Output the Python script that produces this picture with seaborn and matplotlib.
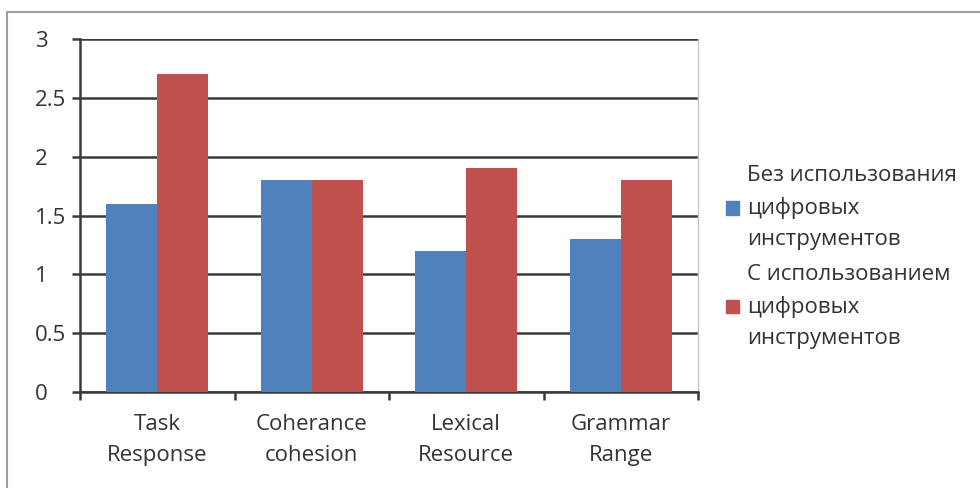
import matplotlib
matplotlib.use("Agg")
import matplotlib.pyplot as plt
from matplotlib.lines import Line2D
from matplotlib.ticker import FixedLocator
import seaborn as sns
import pandas as pd

categories = ["Task\nResponse", "Coherance\ncohesion", "Lexical\nResource", "Grammar\nRange"]
series_names = ["Без использования\nцифровых\nинструментов",
                "С использованием\nцифровых\nинструментов"]
without_digital = [1.6, 1.8, 1.2, 1.3]
with_digital = [2.7, 1.8, 1.9, 1.8]
y_ticks = [0, 0.5, 1, 1.5, 2, 2.5, 3]
y_tick_labels = ["0", "0.5", "1", "1.5", "2", "2.5", "3"]

df = pd.DataFrame({
    "category": categories * 2,
    "series": [series_names[0]] * len(categories) + [series_names[1]] * len(categories),
    "value": without_digital + with_digital,
})

sns.set_style("white")
plt.rcParams["font.family"] = ["Open Sans", "DejaVu Sans"]
FS = 16
TXT = "#333333"
AXC = "#3a3a3a"

fig = plt.figure(figsize=(9.8, 4.88), dpi=100)
ax = fig.add_axes([80 / 980, 1 - 392 / 488, (698 - 80) / 980, (392 - 39) / 488])

sns.barplot(data=df, x="category", y="value", hue="series", order=categories,
            hue_order=series_names, palette=["#4F81BD", "#C0504D"],
            width=0.66, gap=0, saturation=1, errorbar=None, linewidth=0,
            ax=ax, zorder=3)

ax.set_ylim(0, 3)
ax.set_xlim(-0.5, len(categories) - 0.5)
ax.set_yticks(y_ticks)
ax.set_yticklabels(y_tick_labels)
ax.set_xlabel("")
ax.set_ylabel("")

# horizontal gridlines
ax.yaxis.grid(True, color=AXC, linewidth=1.8, zorder=1)
ax.set_axisbelow(True)

ax.spines["top"].set_visible(False)
ax.spines["right"].set_color("#c8c8c8")
ax.spines["right"].set_linewidth(1)
for s in ["left", "bottom"]:
    ax.spines[s].set_color(AXC)
    ax.spines[s].set_linewidth(1.8)

# value labels left-aligned in a column, as in spreadsheet charts
ax.tick_params(axis="y", direction="out", length=5.5, width=1.8, color=AXC,
               left=True, pad=27, labelsize=FS, labelcolor=TXT)
for t in ax.get_yticklabels():
    t.set_horizontalalignment("left")

ax.tick_params(axis="x", which="major", length=0, pad=16, labelsize=FS, labelcolor=TXT)
ax.xaxis.set_minor_locator(FixedLocator([i - 0.5 for i in range(len(categories) + 1)]))
ax.tick_params(axis="x", which="minor", direction="out", length=6, width=1.8,
               color=AXC, bottom=True)
for t in ax.get_xticklabels():
    t.set_linespacing(1.62)

ax.legend_.remove()
handles = [plt.Rectangle((0, 0), 1, 1, color=c) for c in ["#4F81BD", "#C0504D"]]
leg = fig.legend(handles, series_names, loc="center left",
                 bbox_to_anchor=(726 / 980, 1 - 257 / 488), frameon=False,
                 fontsize=FS, handlelength=0.58, handleheight=0.58,
                 handletextpad=0.36, labelspacing=0.6, borderaxespad=0,
                 borderpad=0)
for t in leg.get_texts():
    t.set_linespacing(1.65)
    t.set_color(TXT)

# chart frame (top and left edges)
fig.add_artist(Line2D([7 / 980, 7 / 980], [0, 1 - 12 / 488], color="#a0a0a0",
                      linewidth=1.5, transform=fig.transFigure))
fig.add_artist(Line2D([7 / 980, 1], [1 - 12 / 488, 1 - 12 / 488], color="#a0a0a0",
                      linewidth=1.5, transform=fig.transFigure))

fig.savefig("out.png", dpi=100)
